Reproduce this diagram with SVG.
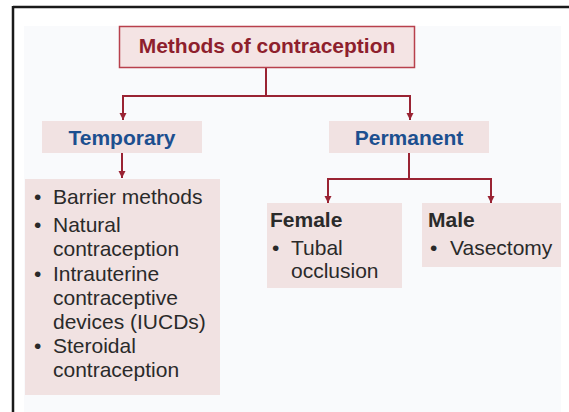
<svg xmlns="http://www.w3.org/2000/svg" width="569" height="412" viewBox="0 0 569 412">
  <defs>
    <marker id="arr" markerWidth="8" markerHeight="8" refX="7" refY="4" orient="auto" markerUnits="userSpaceOnUse">
      <path d="M0,0.5 L7,4 L0,7.5 Z" fill="#9a2333"/>
    </marker>
    <style>
      .box { fill: #f1e2e2; }
      .conn { stroke: #9a2333; stroke-width: 2; fill: none; }
      .txt { font-family: "Liberation Sans", Arial, sans-serif; font-size: 21px; fill: #2a2a2a; }
      .bold { font-weight: bold; }
      .blue { fill: #1c4f8f; font-weight: bold; }
      .title { fill: #8e1f2d; font-weight: bold; }
    </style>
  </defs>
  <rect x="0" y="0" width="569" height="412" fill="#ffffff"/>
  <rect x="24" y="26" width="537" height="386" fill="#f9fafc"/>
  <g id="frame">
    <line x1="13" y1="7" x2="569" y2="7" stroke="#1a1a1a" stroke-width="2.5"/>
    <line x1="13" y1="6" x2="13" y2="412" stroke="#1a1a1a" stroke-width="2.5"/>
  </g>

  <g id="connectors">
    <polyline class="conn" points="266,68 266,96"/>
    <line class="conn" x1="123" y1="96" x2="410" y2="96"/>
    <line class="conn" x1="123" y1="95" x2="123" y2="120" marker-end="url(#arr)"/>
    <line class="conn" x1="410" y1="95" x2="410" y2="120" marker-end="url(#arr)"/>
    <line class="conn" x1="122" y1="153" x2="122" y2="178" marker-end="url(#arr)"/>
    <line class="conn" x1="409" y1="153" x2="409" y2="179"/>
    <line class="conn" x1="328" y1="179" x2="491" y2="179"/>
    <line class="conn" x1="328" y1="178" x2="328" y2="203" marker-end="url(#arr)"/>
    <line class="conn" x1="491" y1="178" x2="491" y2="203" marker-end="url(#arr)"/>
  </g>

  <g id="root">
    <rect x="119.5" y="26.5" width="295" height="41" fill="#f4e4e4" stroke="#b8404c" stroke-width="1.5"/>
    <text class="txt title" x="267" y="53" text-anchor="middle">Methods of contraception</text>
  </g>

  <g id="temporary">
    <rect class="box" x="42" y="121" width="160" height="32"/>
    <text class="txt blue" x="122" y="145" text-anchor="middle">Temporary</text>
  </g>

  <g id="permanent">
    <rect class="box" x="329" y="121" width="160" height="32"/>
    <text class="txt blue" x="409" y="145" text-anchor="middle">Permanent</text>
  </g>

  <g id="temporary-list">
    <rect class="box" x="25" y="179" width="195" height="216"/>
    <g class="txt">
      <text x="34" y="204">•</text>
      <text x="53" y="204">Barrier methods</text>
      <text x="34" y="232">•</text>
      <text x="53" y="232">Natural</text>
      <text x="53" y="256">contraception</text>
      <text x="34" y="281">•</text>
      <text x="53" y="281">Intrauterine</text>
      <text x="53" y="305">contraceptive</text>
      <text x="53" y="329">devices (IUCDs)</text>
      <text x="34" y="353">•</text>
      <text x="53" y="353">Steroidal</text>
      <text x="53" y="377">contraception</text>
    </g>
  </g>

  <g id="female">
    <rect class="box" x="267" y="203" width="135" height="85"/>
    <text class="txt bold" x="270" y="227">Female</text>
    <text class="txt" x="272" y="255">•</text>
    <text class="txt" x="291" y="255">Tubal</text>
    <text class="txt" x="291" y="278">occlusion</text>
  </g>

  <g id="male">
    <rect class="box" x="422" y="203" width="139" height="64"/>
    <text class="txt bold" x="428" y="227">Male</text>
    <text class="txt" x="430" y="255">•</text>
    <text class="txt" x="450" y="255">Vasectomy</text>
  </g>
</svg>
